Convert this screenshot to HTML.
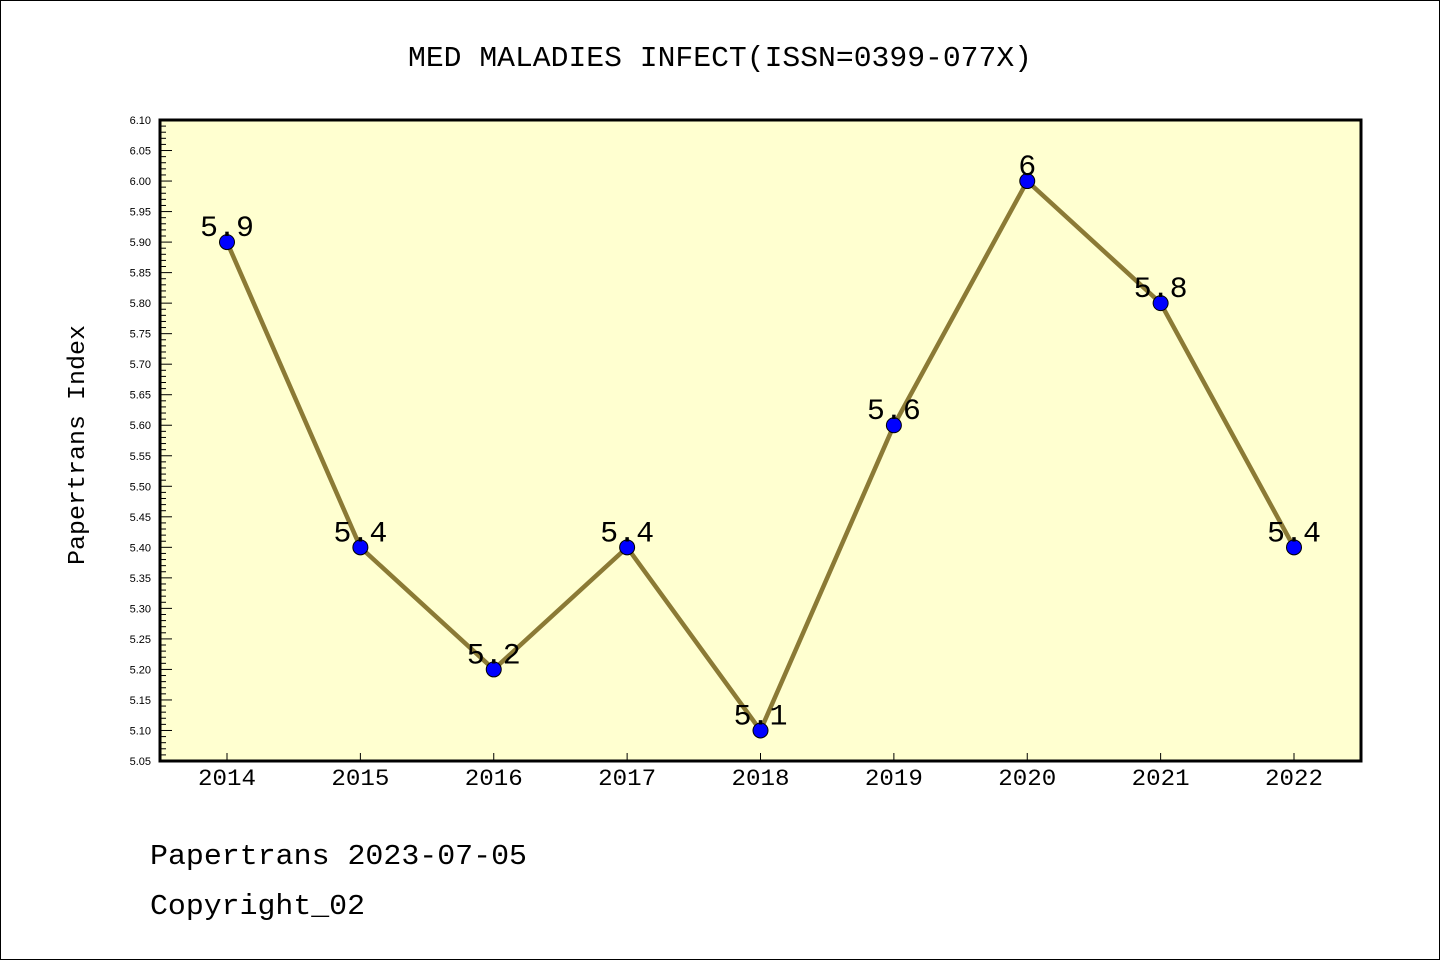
<!DOCTYPE html>
<html><head><meta charset="utf-8"><style>
body{margin:0;background:#fff}
svg text{font-family:"Liberation Mono","WenQuanYi Zen Hei",monospace}
</style></head><body>
<svg width="1440" height="960" xmlns="http://www.w3.org/2000/svg">
<rect x="0.5" y="0.5" width="1439" height="959" fill="#fff" stroke="#000"/>
<text x="408" y="66" font-size="29" textLength="624" lengthAdjust="spacingAndGlyphs">MED MALADIES INFECT(ISSN=0399-077X)</text>
<rect x="160" y="120" width="1201" height="641" fill="#ffffd0"/>
<g id="yaxis"></g>
<g id="xaxis"></g>
<g id="series"></g>
<rect x="160" y="120" width="1201" height="641" fill="none" stroke="#000" stroke-width="3"/>
<text transform="translate(84,565) rotate(-90)" font-size="24" textLength="240" lengthAdjust="spacingAndGlyphs">Papertrans Index</text>
<text x="150" y="864" font-size="29" textLength="377" lengthAdjust="spacingAndGlyphs">Papertrans 2023-07-05</text>
<text x="150" y="914" font-size="29" textLength="215" lengthAdjust="spacingAndGlyphs">Copyright_02</text>
</svg>
<script>
const years=["2014","2015","2016","2017","2018","2019","2020","2021","2022"];
const values=[5.9,5.4,5.2,5.4,5.1,5.6,6.0,5.8,5.4];
const labels=["5.9","5.4","5.2","5.4","5.1","5.6","6","5.8","5.4"];
const yMin=5.05,yMax=6.10;
const NS="http://www.w3.org/2000/svg";
function y(v){return 761-(v-yMin)/(yMax-yMin)*641;}
function x(i){return 227+i*(1294-227)/(years.length-1);}
function mk(t,a,p){const e=document.createElementNS(NS,t);for(const k in a)e.setAttribute(k,a[k]);p.appendChild(e);return e;}
const ya=document.getElementById('yaxis'),xa=document.getElementById('xaxis'),se=document.getElementById('series');
for(let k=0;k<=105;k++){
 const v=yMin+k*0.01,yy=y(v),major=k%5===0;
 const l=mk('line',{x1:160,x2:160+(major?12:6),y1:yy,y2:yy,stroke:'#000','stroke-width':1},ya);
 
 
 if(major){const t=mk('text',{x:151,y:yy+4,'font-size':11,'text-anchor':'end',style:'font-family:"Liberation Sans",sans-serif'},ya);t.textContent=v.toFixed(2);
 
 }
}
years.forEach((yr,i)=>{
 const t=mk('text',{x:x(i)-29,y:785,'font-size':23,textLength:58,lengthAdjust:'spacingAndGlyphs'},xa);t.textContent=yr;
 
 
 const l=mk('line',{x1:x(i),x2:x(i),y1:761,y2:753,stroke:'#000'},xa);
 
 
});
const pl=mk('polyline',{points:values.map((v,i)=>x(i)+','+y(v)).join(' '),fill:'none',stroke:'#8b7a35','stroke-width':4.5},se);


values.forEach((v,i)=>{
 const c=mk('circle',{cx:x(i),cy:y(v),r:7.5,fill:'#0000ff',stroke:'#000','stroke-width':1},se);
 
 
 const t=mk('text',{x:x(i),y:y(v)-6,'font-size':30,'text-anchor':'middle'},se);t.textContent=labels[i];
 
 
});
</script>
</body></html>
